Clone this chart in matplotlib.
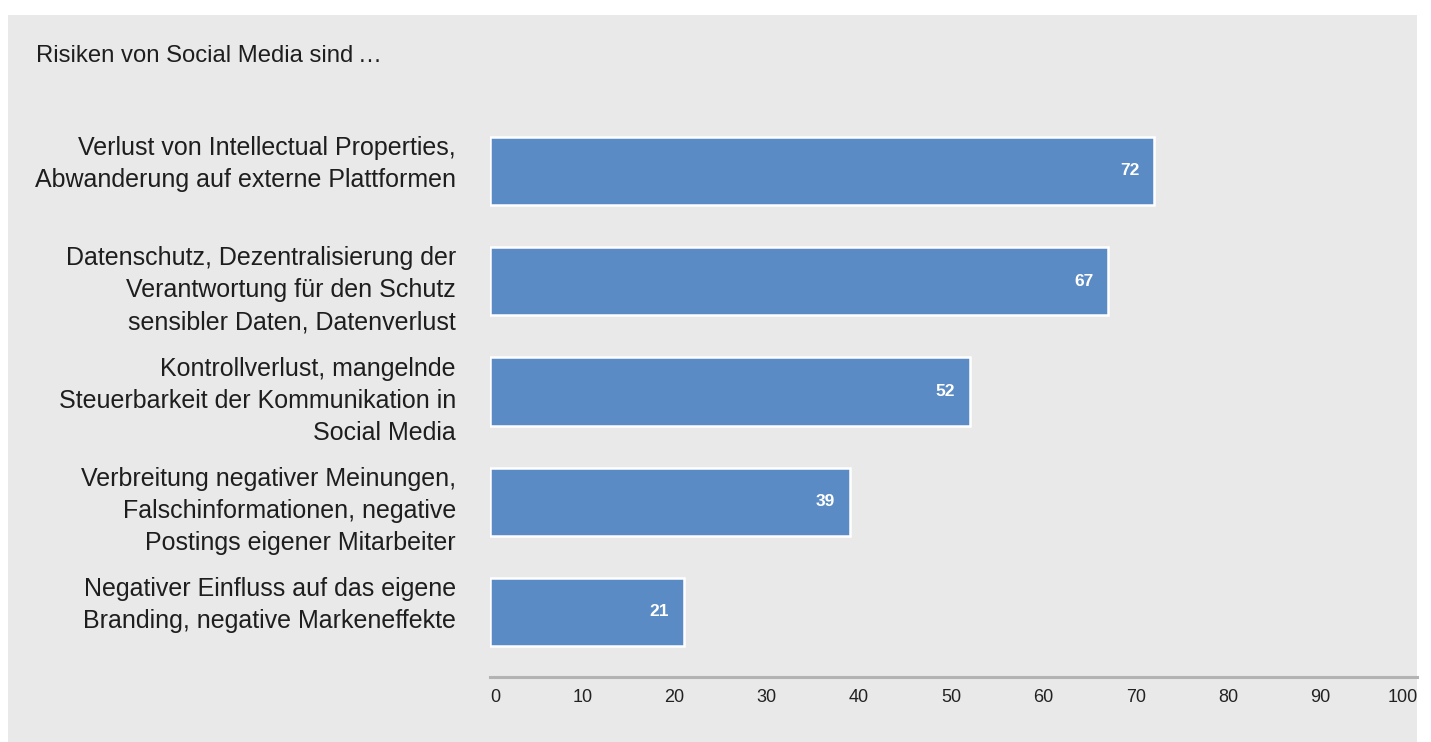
import matplotlib
matplotlib.use("Agg")
import matplotlib.pyplot as plt
from matplotlib.patches import Rectangle

title = "Risiken von Social Media sind\u2009…"
categories = [
    "Verlust von Intellectual Properties,\nAbwanderung auf externe Plattformen",
    "Datenschutz, Dezentralisierung der\nVerantwortung für den Schutz\nsensibler Daten, Datenverlust",
    "Kontrollverlust, mangelnde\nSteuerbarkeit der Kommunikation in\nSocial Media",
    "Verbreitung negativer Meinungen,\nFalschinformationen, negative\nPostings eigener Mitarbeiter",
    "Negativer Einfluss auf das eigene\nBranding, negative Markeneffekte",
]
values = [72, 67, 52, 39, 21]
xticks = [0, 10, 20, 30, 40, 50, 60, 70, 80, 90, 100]

plt.rcParams['font.family'] = ['Liberation Sans', 'DejaVu Sans']

W, H = 1431, 742
fig = plt.figure(figsize=(W / 100, H / 100), dpi=100, facecolor='white')
bg = Rectangle((8 / W, 0), (1417 - 8) / W, (H - 15) / H,
               transform=fig.transFigure, facecolor='#e9e9e9',
               edgecolor='none', zorder=-10)
fig.add_artist(bg)

ax_left = 490 / W
ax_right = 1417 / W
ax_bottom = 1 - 677 / H
ax_top = 1 - 110 / H
ax = fig.add_axes([ax_left, ax_bottom, ax_right - ax_left, ax_top - ax_bottom])
ax.set_facecolor('none')
ax.set_zorder(1)

bar_h = 0.62
ypos = list(range(len(values)))
ax.barh(ypos, values, height=bar_h, color='#5b8bc4', edgecolor='white',
        linewidth=1.8, zorder=3)

ax.set_xlim(0, 100.5)
ax.set_ylim(4.59, -0.553)

for y, v in zip(ypos, values):
    ax.annotate(str(v), xy=(v, y), xytext=(-10.5, 0), textcoords='offset points',
                ha='right', va='center', color='white', fontsize=12.5,
                fontweight='bold', zorder=4)

for y, lab in zip(ypos, categories):
    ax.annotate(lab, xy=(0, y - bar_h / 2), xycoords='data',
                xytext=(-24.5, 0.5), textcoords='offset points',
                ha='right', va='top', fontsize=18, color='#1e1e1e',
                linespacing=1.42, annotation_clip=False)

ax.set_yticks([])
ax.set_xticks(xticks)
ticklabels = [str(t) for t in xticks]
ax.set_xticklabels(ticklabels[:-1] + [''], fontsize=13, color='#222222')
ax.get_xticklabels()[0].set_horizontalalignment('left')
ax.annotate(ticklabels[-1], xy=(xticks[-1], 0), xycoords=('data', 'axes fraction'),
            xytext=(4, -9), textcoords='offset points', ha='right', va='top',
            fontsize=13, color='#222222', annotation_clip=False)
ax.tick_params(axis='x', length=0, pad=9)

for s in ['top', 'right', 'left']:
    ax.spines[s].set_visible(False)
ax.spines['bottom'].set_color('#b3b3b3')
ax.spines['bottom'].set_linewidth(2.2)

fig.text(36 / W, 1 - 56 / H, title, ha='left', va='center', fontsize=17.2,
         color='#1e1e1e')

fig.savefig('out.png', dpi=100, facecolor='white')
